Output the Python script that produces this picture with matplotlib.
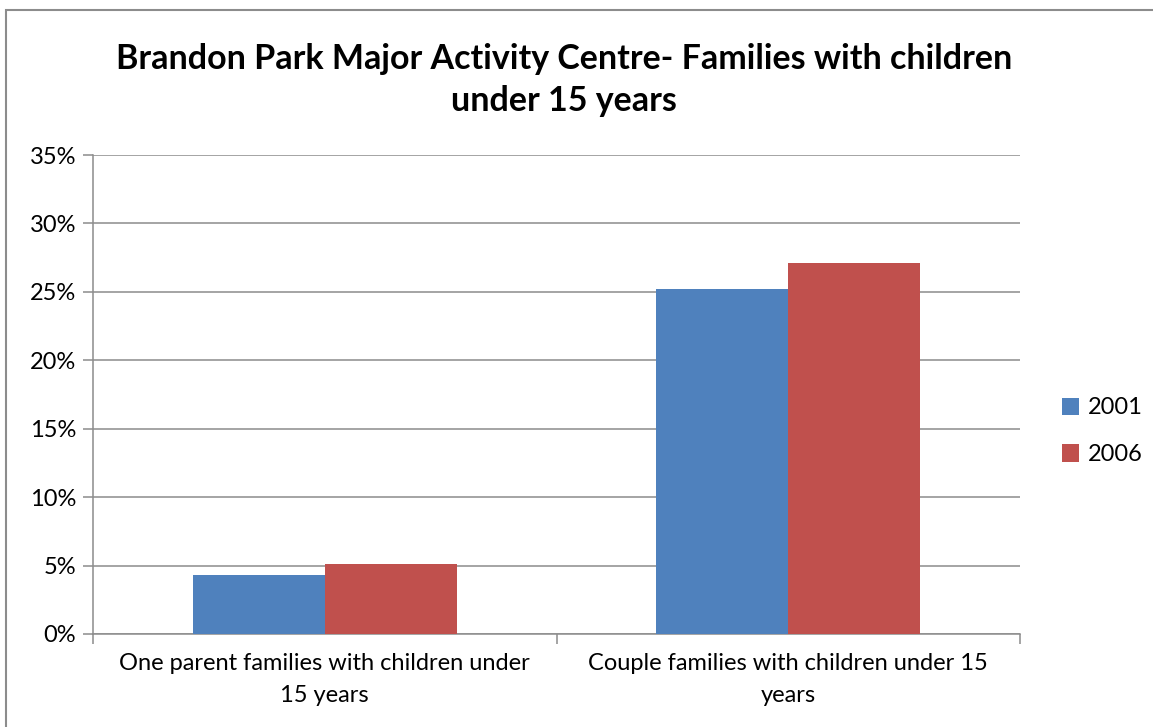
import matplotlib.pyplot as plt
import numpy as np
from matplotlib.patches import Rectangle
from matplotlib.ticker import PercentFormatter

plt.rcParams['font.family'] = ['Lato', 'DejaVu Sans']

categories = ['One parent families with children under\n15 years',
              'Couple families with children under 15\nyears']
years = ['2001', '2006']
values_2001 = [4.3, 25.2]
values_2006 = [5.1, 27.1]
colors = ['#4F81BD', '#C0504D']

fig = plt.figure(figsize=(11.53, 7.27), dpi=100)
ax = fig.add_axes([93 / 1153, 1 - 634 / 727, (1020 - 93) / 1153, (634 - 155) / 727])

# outer chart border
fig.patches.append(Rectangle((6 / 1153, -0.01), 1.0, 1 - 10 / 727 + 0.01,
                             transform=fig.transFigure, fill=False,
                             edgecolor='#8c8c8c', linewidth=1.5))

x = np.arange(len(categories))
w = 0.285
ax.bar(x - w / 2, values_2001, w, color=colors[0], label=years[0], zorder=3)
ax.bar(x + w / 2, values_2006, w, color=colors[1], label=years[1], zorder=3)

ax.set_xlim(-0.5, 1.5)
ax.set_ylim(0, 35)
ax.set_yticks(np.arange(0, 36, 5))
ax.yaxis.set_major_formatter(PercentFormatter(decimals=0))
ax.grid(axis='y', color='#8c8c8c', linewidth=1.1, zorder=0)

ax.set_xticks(x)
ax.set_xticklabels(categories, fontsize=17, linespacing=1.65)
ax.set_xticks([-0.5, 0.5, 1.5], minor=True)
ax.tick_params(axis='x', which='major', length=0, pad=14)
ax.tick_params(axis='x', which='minor', length=7, color='#8c8c8c', width=1.1)
ax.tick_params(axis='y', length=7, color='#8c8c8c', width=1.1, labelsize=17, pad=5)

for s in ['top', 'right']:
    ax.spines[s].set_visible(False)
for s in ['left', 'bottom']:
    ax.spines[s].set_color('#8c8c8c')
    ax.spines[s].set_linewidth(1.1)

fig.text(564 / 1153, 1 - 80 / 727,
         'Brandon Park Major Activity Centre- Families with children\nunder 15 years',
         ha='center', va='center', fontsize=24.5, fontweight='bold', linespacing=1.35)

ax.legend(loc='center left', bbox_to_anchor=(1.022, 0.423), frameon=False,
          fontsize=17, handlelength=0.75, handleheight=0.75, handletextpad=0.35,
          labelspacing=1.1)

fig.savefig('out.png', dpi=100)
